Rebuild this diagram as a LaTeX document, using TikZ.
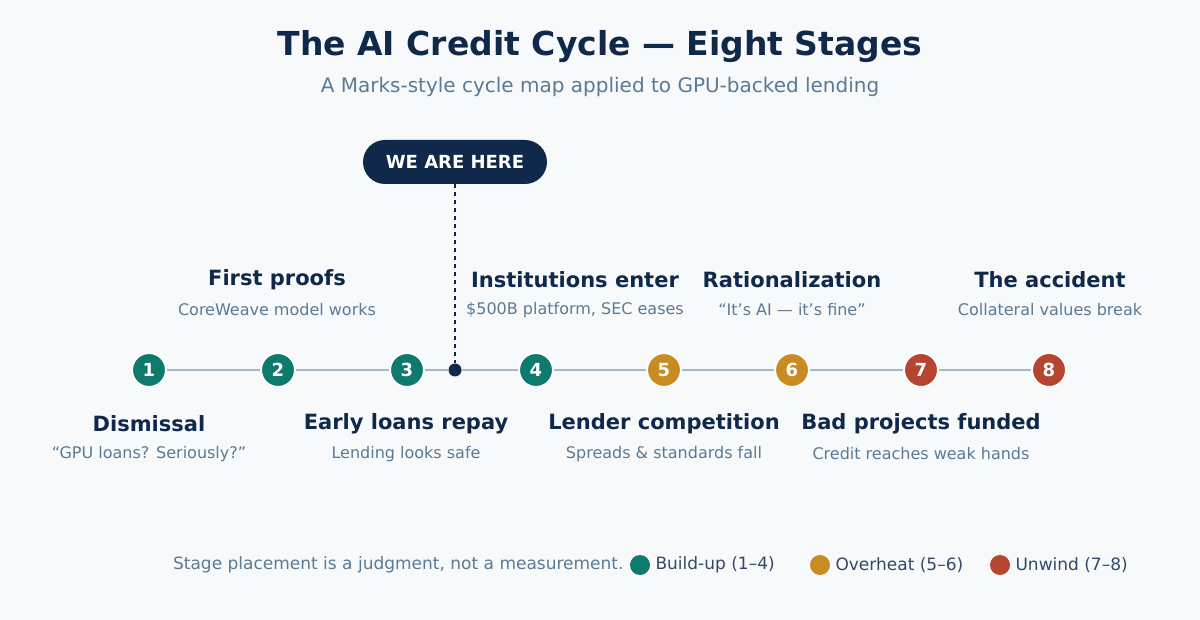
\documentclass[tikz,border=0pt]{standalone}
\usepackage{fontspec}
\setmainfont{DejaVu Sans}
\begin{document}
\definecolor{bg}{HTML}{F7F9FB}
\definecolor{teal}{HTML}{0E7A6E}
\definecolor{gold}{HTML}{C98C22}
\definecolor{rust}{HTML}{B5452E}
\definecolor{navy}{HTML}{10294A}
\definecolor{muted}{HTML}{5B7A95}
\definecolor{track}{HTML}{A9B8C8}
\begin{tikzpicture}[x=1pt,y=-1pt,
 stage/.style={circle,draw=white,line width=2pt,minimum size=34pt,inner sep=0pt,text=white,font=\fontsize{18}{18}\selectfont\bfseries},
 ttl/.style={text=navy,font=\fontsize{21}{21}\selectfont\bfseries},
 sub/.style={text=muted,font=\fontsize{16}{16}\selectfont},
 leg/.style={circle,minimum size=20pt,inner sep=0pt},
 legt/.style={anchor=west,text=navy!85,font=\fontsize{17}{17}\selectfont}]
\fill[bg] (0,0) rectangle (1200,620);
\node[text=navy,font=\fontsize{33}{33}\selectfont\bfseries] (title) at (600,47) {The AI Credit Cycle — Eight Stages};
\node[text=muted,font=\fontsize{20}{20}\selectfont] (subtitle) at (600,87) {A Marks-style cycle map applied to GPU-backed lending};
\foreach \i/\x/\c in {1/149/teal,2/278/teal,3/407/teal,4/536/teal,5/664/gold,6/792/gold,7/921/rust,8/1049/rust}
  \node[stage,fill=\c] (s\i) at (\x,370) {\i};
\node[circle,fill=navy,minimum size=13pt,inner sep=0pt] (here) at (455,370) {};
\foreach \a/\b in {s1/s2,s2/s3,s3/here,here/s4,s4/s5,s5/s6,s6/s7,s7/s8}
  \draw[track,line width=2.5pt] (\a) -- (\b);
\node[fill=navy,rounded corners=22pt,minimum width=184pt,minimum height=44pt,text=white,font=\fontsize{18}{18}\selectfont\bfseries] (pill) at (455,162) {WE ARE HERE};
\draw[navy,line width=2.5pt,dash pattern=on 4pt off 4pt] (pill) -- (here);
\node[ttl] (t1) at (149,424) {Dismissal};
\node[sub] (d1) at (149,454) {“GPU loans? Seriously?”};
\node[ttl] (t2) at (277,280) {First proofs};
\node[sub] (d2) at (277,310) {CoreWeave model works};
\node[ttl] (t3) at (406,424) {Early loans repay};
\node[sub] (d3) at (406,454) {Lending looks safe};
\node[ttl] (t4) at (575,280) {Institutions enter};
\node[sub] (d4) at (575,310) {\$500B platform, SEC eases};
\node[ttl] (t5) at (664,424) {Lender competition};
\node[sub] (d5) at (664,454) {Spreads \& standards fall};
\node[ttl] (t6) at (792,280) {Rationalization};
\node[sub] (d6) at (792,310) {“It’s AI — it’s fine”};
\node[ttl] (t7) at (921,424) {Bad projects funded};
\node[sub] (d7) at (921,454) {Credit reaches weak hands};
\node[ttl] (t8) at (1050,280) {The accident};
\node[sub] (d8) at (1050,310) {Collateral values break};
\node[anchor=east,text=muted,font=\fontsize{17}{17}\selectfont] (note) at (627,565) {Stage placement is a judgment, not a measurement.};
\node[leg,fill=teal] (l1) at (640,565) {};
\node[legt] (lt1) at (652,565) {Build-up (1–4)};
\node[leg,fill=gold] (l2) at (820,565) {};
\node[legt] (lt2) at (832,565) {Overheat (5–6)};
\node[leg,fill=rust] (l3) at (1000,565) {};
\node[legt] (lt3) at (1012,565) {Unwind (7–8)};
\end{tikzpicture}
\end{document}
